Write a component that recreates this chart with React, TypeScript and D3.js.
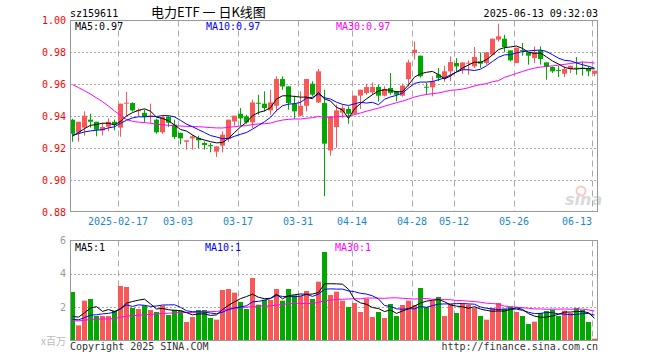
import React from "react";
import * as d3 from "d3";

const tickLabels = ["2025-02-17", "03-03", "03-17", "03-31", "04-14", "04-28", "05-12", "05-26", "06-13"];
const tickIndex = [8, 18, 28, 38, 47, 57, 64, 74, 87];
const priceTicks = [1.0, 0.98, 0.96, 0.94, 0.92, 0.9, 0.88];
const volTicks = [6, 4, 2];

const open = [.9377,.9296,.9327,.9377,.9364,.9310,.9333,.9364,.9327,.9477, .9481,.9433,.9420,.9394,.9377,.9298,.9394,.9346,.9294,.9239, .9260,.9262,.9231,.9218,.9177,.9215,.9256,.9366,.9414,.9398, .9360,.9483,.9477,.9435,.9464,.9631,.9585,.9477,.9402,.9464, .9602,.9485,.9481,.9185,.9331,.9421,.9444,.9414,.9527,.9544, .9548,.9581,.9527,.9575,.9554,.9527,.9631,.9794,.9777,.9583, .9579,.9660,.9637,.9679,.9731,.9690,.9729,.9710,.9741,.9731, .9783,.9877,.9883,.9810,.9731,.9812,.9798,.9762,.9810,.9735, .9706,.9687,.9664,.9694,.9702,.9702,.9700,.9664];
const high = [.9383,.9364,.9429,.9414,.9364,.9356,.9385,.9377,.9477,.9552, .9485,.9448,.9440,.9477,.9383,.9402,.9402,.9377,.9296,.9248, .9281,.9277,.9241,.9231,.9210,.9304,.9377,.9402,.9450,.9408, .9502,.9533,.9554,.9564,.9648,.9648,.9585,.9527,.9554,.9631, .9617,.9694,.9564,.9398,.9471,.9471,.9460,.9527,.9564,.9602, .9610,.9596,.9585,.9669,.9554,.9602,.9752,.9866,.9777,.9608, .9648,.9700,.9714,.9773,.9762,.9735,.9748,.9831,.9798,.9798, .9883,.9977,.9908,.9810,.9827,.9856,.9798,.9835,.9835,.9735, .9710,.9714,.9710,.9714,.9769,.9741,.9710,.9683];
const low = [.9239,.9239,.9277,.9327,.9273,.9277,.9304,.9310,.9270,.9402, .9427,.9398,.9358,.9356,.9289,.9289,.9331,.9256,.9223,.9190, .9190,.9200,.9190,.9173,.9144,.9173,.9239,.9339,.9339,.9352, .9325,.9408,.9429,.9408,.9429,.9564,.9439,.9381,.9398,.9429, .9523,.9481,.8898,.9152,.9202,.9389,.9352,.9408,.9444,.9533, .9533,.9491,.9523,.9533,.9491,.9521,.9585,.9752,.9640,.9533, .9523,.9617,.9615,.9617,.9679,.9664,.9658,.9700,.9700,.9721, .9783,.9866,.9798,.9741,.9731,.9777,.9721,.9731,.9721,.9627, .9669,.9644,.9644,.9669,.9658,.9652,.9648,.9648];
const close = [.9289,.9364,.9402,.9364,.9314,.9331,.9364,.9346,.9477,.9483, .9435,.9436,.9394,.9402,.9298,.9394,.9358,.9269,.9260,.9248, .9273,.9248,.9219,.9211,.9210,.9283,.9377,.9402,.9385,.9360, .9485,.9479,.9450,.9485,.9631,.9585,.9481,.9429,.9464,.9631, .9533,.9679,.9227,.9398,.9435,.9450,.9414,.9527,.9564,.9581, .9581,.9527,.9569,.9544,.9533,.9590,.9735,.9814,.9648,.9579, .9617,.9637,.9679,.9737,.9710,.9735,.9733,.9769,.9727,.9798, .9883,.9898,.9831,.9748,.9827,.9808,.9777,.9800,.9756,.9706, .9679,.9683,.9694,.9714,.9698,.9698,.9679,.9683];
const volume = [2.91,0.91,2.39,2.49,1.47,1.47,1.47,1.79,3.27,3.21, 1.95,1.89,2.09,1.83,1.71,2.09,1.53,1.85,1.79,1.11, 1.41,1.83,1.83,1.35,1.25,3.03,3.09,2.87,2.31,1.89, 3.75,2.15,2.45,2.43,3.09,2.39,3.09,2.71,2.69,2.97, 2.49,3.53,5.31,2.73,2.93,2.39,2.01,2.25,1.71,2.51, 1.41,1.71,1.35,2.19,1.47,2.13,2.39,2.13,3.15,2.01, 2.39,2.61,1.47,2.19,1.65,2.21,2.15,1.95,1.47,1.25, 1.95,2.25,1.89,2.01,1.71,1.47,0.99,1.13,1.65,1.77, 1.85,1.47,1.79,1.65,1.95,1.83,1.11,0.11];

// sessions before the first visible candle (only feed the moving averages)
const priorCloses = [0.995,0.998,1.000,1.002,1.005,1.020,1.025,1.030,1.028, 0.975,0.960,0.948, 0.952,0.950,0.948,0.946, 0.935,0.932,0.930,0.931,0.928,0.929,0.930,0.927, 0.930, 0.925,0.928,0.926,0.929];
const priorVolumes = [1.05,1.20,1.15,0.95,1.10,1.30,1.25,1.00,1.10,1.20, 1.15,1.05,1.25,1.10,0.95,1.20,1.15,1.10,1.20,1.30, 1.25,1.10,1.00,1.20,0.95,1.15,1.10,1.05,1.04];

const RED = "#f85858";
const GREEN = "#00a800";
const MONO = "'DejaVu Sans Mono', monospace";
const CJK = "'Noto Sans CJK SC', sans-serif";

function movingAvg(prior: number[], vals: number[], n: number): number[] {
  const all = prior.concat(vals);
  const p = prior.length;
  return vals.map((_, i) => d3.mean(all.slice(p + i - n + 1, p + i + 1)) as number);
}

export default function App() {
  const N = close.length;
  const L = 70, R = 598;
  const x = d3.scaleLinear().domain([0, N]).range([L, R]);
  const y = d3.scaleLinear().domain([0.88, 1.0]).range([212, 20]);
  const yv = d3.scaleLinear().domain([0, 6]).range([340.5, 240.5]);
  const cx = (i: number) => x(i) + 2.5;

  const ma5 = movingAvg(priorCloses, close, 5);
  const ma10 = movingAvg(priorCloses, close, 10);
  const ma30 = movingAvg(priorCloses, close, 30);
  const vma5 = movingAvg(priorVolumes, volume, 5);
  const vma10 = movingAvg(priorVolumes, volume, 10);
  const vma30 = movingAvg(priorVolumes, volume, 30);

  const pLine = d3.line<number>().x((_, i) => cx(i)).y((d) => y(d));
  const vLine = d3.line<number>().x((_, i) => cx(i)).y((d) => yv(d));

  const last = (a: number[]) => a[a.length - 1];
  const isUp = (i: number) => close[i] >= open[i];

  return (
    <svg width={660} height={360} style={{ position: "absolute", left: 0, top: 0, background: "#fff" }}>
      <defs>
        <clipPath id="pclip"><rect x={L} y={20.5} width={R - L} height={191} /></clipPath>
        <clipPath id="vclip"><rect x={L} y={240.5} width={R - L} height={100} /></clipPath>
      </defs>
      {/* header */}
      <text x={70} y={16.5} fontFamily={MONO} fontSize={10} fill="#000">sz159611</text>
      <text x={151} y={17} fontFamily={CJK} fontSize={13} fill="#000">电力ETF 一 日K线图</text>
      <text x={598} y={16.5} fontFamily={MONO} fontSize={10} fill="#000" textAnchor="end">2025-06-13 09:32:03</text>

      {/* price grid */}
      {priceTicks.slice(1, -1).map((t) => (
        <line key={t} x1={L} x2={R} y1={Math.round(y(t)) + 0.5} y2={Math.round(y(t)) + 0.5} stroke="#aaa" strokeDasharray="2,2" />
      ))}
      {tickIndex.map((ti) => (
        <g key={ti}>
          <line x1={Math.round(x(ti)) + 0.5} x2={Math.round(x(ti)) + 0.5} y1={20.5} y2={211.5} stroke="#aaa" strokeDasharray="6,4" />
          <line x1={Math.round(x(ti)) + 0.5} x2={Math.round(x(ti)) + 0.5} y1={240.5} y2={340.5} stroke="#aaa" strokeDasharray="6,4" />
        </g>
      ))}
      {priceTicks.map((t) => (
        <text key={t} x={66} y={y(t) + 3.5} fontFamily={MONO} fontSize={10} fill="#f00" textAnchor="end">{t.toFixed(2)}</text>
      ))}

      {/* watermark */}
      <g opacity={0.55}>
        <circle cx={581} cy={191} r={4.5} fill="none" stroke="#f3a0a0" strokeWidth={2} />
        <text x={565} y={205} fontFamily="'DejaVu Sans', sans-serif" fontSize={16} fontStyle="italic" fontWeight="bold" fill="#bbb">sina</text>
      </g>

      {/* candles */}
      <g clipPath="url(#pclip)">
        {close.map((c, i) => {
          const col = isUp(i) ? RED : GREEN;
          const top = y(Math.max(open[i], c));
          const bot = y(Math.min(open[i], c));
          return (
            <g key={i}>
              <line x1={cx(i)} x2={cx(i)} y1={y(high[i])} y2={y(low[i])} stroke={col} strokeWidth={1} />
              <rect x={x(i)} y={top} width={5} height={Math.max(1, bot - top)} fill={col} />
            </g>
          );
        })}
        <path d={pLine(ma30) || ""} fill="none" stroke="#f0f" strokeWidth={1} />
        <path d={pLine(ma10) || ""} fill="none" stroke="#00f" strokeWidth={1} />
        <path d={pLine(ma5) || ""} fill="none" stroke="#000" strokeWidth={1} />
      </g>
      <rect x={70.5} y={20.5} width={527} height={191} fill="none" stroke="#999" />

      <text x={75} y={30} fontFamily={MONO} fontSize={10} fill="#000">{`MA5:${last(ma5).toFixed(2)}`}</text>
      <text x={206} y={30} fontFamily={MONO} fontSize={10} fill="#00f">{`MA10:${last(ma10).toFixed(2)}`}</text>
      <text x={336} y={30} fontFamily={MONO} fontSize={10} fill="#f0f">{`MA30:${last(ma30).toFixed(2)}`}</text>

      {/* x labels */}
      {tickIndex.map((ti, k) => (
        <text key={ti} x={k === tickIndex.length - 1 ? x(ti) : x(ti)} y={224.5} fontFamily={MONO} fontSize={10} fill="#1a88cc"
          textAnchor={k === tickIndex.length - 1 ? "end" : "middle"}>{tickLabels[k]}</text>
      ))}

      {/* volume panel */}
      {[4, 2].map((t) => (
        <line key={t} x1={L} x2={R} y1={Math.round(yv(t)) + 0.5} y2={Math.round(yv(t)) + 0.5} stroke="#aaa" strokeDasharray="2,2" />
      ))}
      <g clipPath="url(#vclip)">
        {volume.map((v, i) => (
          <rect key={i} x={x(i)} y={yv(v)} width={5} height={yv(0) - yv(v)} fill={isUp(i) ? RED : GREEN} />
        ))}
        <path d={vLine(vma30) || ""} fill="none" stroke="#f0f" strokeWidth={1} />
        <path d={vLine(vma10) || ""} fill="none" stroke="#00f" strokeWidth={1} />
        <path d={vLine(vma5) || ""} fill="none" stroke="#000" strokeWidth={1} />
      </g>
      <rect x={70.5} y={240.5} width={527} height={100} fill="none" stroke="#999" />
      {volTicks.map((t) => (
        <text key={t} x={66} y={yv(t) + 3.5} fontFamily={MONO} fontSize={10} fill="#999" textAnchor="end">{t}</text>
      ))}
      <text x={66} y={345} fontFamily={CJK} fontSize={10} fill="#bbb" textAnchor="end">x百万</text>
      <text x={75} y={250.5} fontFamily={MONO} fontSize={10} fill="#000">{`MA5:${Math.floor(last(vma5))}`}</text>
      <text x={205} y={250.5} fontFamily={MONO} fontSize={10} fill="#00f">{`MA10:${Math.floor(last(vma10))}`}</text>
      <text x={335} y={250.5} fontFamily={MONO} fontSize={10} fill="#f0f">{`MA30:${Math.floor(last(vma30))}`}</text>

      <text x={70} y={349.5} fontFamily={MONO} fontSize={10} fill="#333">Copyright 2025 SINA.COM</text>
      <text x={598} y={349.5} fontFamily={MONO} fontSize={10} fill="#333" textAnchor="end">http://finance.sina.com.cn</text>
    </svg>
  );
}
